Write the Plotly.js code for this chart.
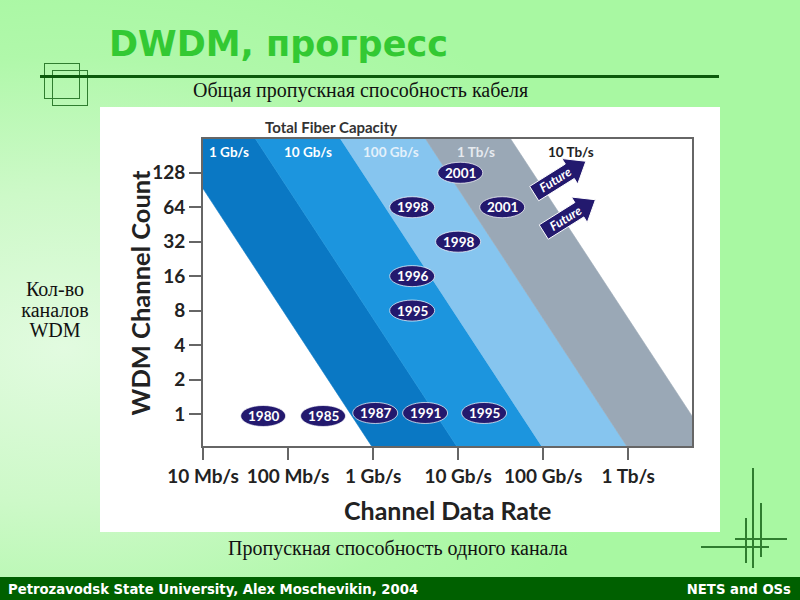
<!DOCTYPE html>
<html><head><meta charset="utf-8">
<script src="https://cdn.plot.ly/plotly-3.0.1.min.js"></script>
<style>
html,body{margin:0;padding:0;}
body{width:800px;height:600px;position:relative;overflow:hidden;
 background: radial-gradient(ellipse 75% 65% at 8% 58%, #e2fbe0 0%, #cdf9c8 40%, #b0f8aa 75%, #a8f8a2 100%);}
#title{position:absolute;left:109px;top:24px;font-family:"DejaVu Sans",Verdana,sans-serif;font-weight:bold;font-size:35px;color:#33c933;white-space:nowrap;}
.rule{position:absolute;left:40px;top:75px;width:679px;height:3px;background:#0b5a0b;}
.sq{position:absolute;border:1.5px solid #2f7d2f;width:34px;height:34px;}
.sq1{left:44px;top:63px;}
.sq2{left:52px;top:70px;}
.serif{position:absolute;font-family:"Liberation Serif","Times New Roman",serif;color:#111;white-space:nowrap;}
#sub1{left:193px;top:79px;font-size:20px;}
#sub2{left:228px;top:537px;font-size:20px;}
#ylab{left:8px;top:279px;width:94px;text-align:center;font-size:20px;line-height:20.5px;}
#panel{position:absolute;left:100px;top:107px;width:620px;height:425px;background:#fff;}
#chart{width:620px;height:425px;}
.vl{position:absolute;width:1.5px;background:#2f7d2f;}
.hl{position:absolute;height:1.5px;background:#2f7d2f;}
#footer{position:absolute;left:0;top:577px;width:800px;height:23px;background:#006000;color:#fff;
 font-family:"DejaVu Sans Condensed","DejaVu Sans",sans-serif;font-stretch:condensed;font-weight:bold;font-size:14.7px;line-height:23px;}
#footer .l{position:absolute;left:8px;}
#footer .r{position:absolute;right:9px;}
</style></head><body>
<div id="title">DWDM, прогресс</div>
<div class="sq sq1"></div><div class="sq sq2"></div>
<div class="rule"></div>
<div id="sub1" class="serif">Общая пропускная способность кабеля</div>
<div id="panel"><div id="chart"></div></div>
<div id="ylab" class="serif">Кол-во<br>каналов<br>WDM</div>
<div id="sub2" class="serif">Пропускная способность одного канала</div>
<div class="vl" style="left:752px;top:468px;height:100px;"></div>
<div class="vl" style="left:760px;top:503px;height:54px;"></div>
<div class="vl" style="left:745px;top:518px;height:45px;"></div>
<div class="hl" style="left:735px;top:538px;width:52px;"></div>
<div class="hl" style="left:701px;top:546px;width:68px;"></div>
<div id="footer"><span class="l">Petrozavodsk State University, Alex Moschevikin, 2004</span><span class="r">NETS and OSs</span></div>
<script>
// ---- data (rates in Mb/s, channel counts) ----
const xTickRates = [10, 100, 1000, 10000, 100000, 1000000];
const xTickLabels = ['10 Mb/s', '100 Mb/s', '1 Gb/s', '10 Gb/s', '100 Gb/s', '1 Tb/s'];
const yTickCounts = [1, 2, 4, 8, 16, 32, 64, 128];
const yTickLabels = ['1', '2', '4', '8', '16', '32', '64', '128'];

const bandNames = ['1 Gb/s', '10 Gb/s', '100 Gb/s', '1 Tb/s', '10 Tb/s'];
const bandEdgeRateLow = [1000, 10000, 100000, 1000000, 10000000];   // edge rate at 0.5 channels
const bandEdgeRateHigh = [4.1, 41, 410, 4100, 41000];               // edge rate at 256 channels
const bandEdgeCountLow = 0.5;
const bandEdgeCountHigh = 256;
const bandLabelRates = [20, 172, 1620, 16200, 214000];
const bandLabelCount = 196;

const years = ['1980', '1985', '1987', '1991', '1995', '1995', '1996', '1998', '1998', '2001', '2001'];
const yearRates = [51, 258, 1060, 4090, 20200, 2880, 2880, 2880, 10000, 10600, 33000];
const yearCounts = [0.96, 0.96, 1.02, 1.02, 1.02, 8, 16, 64, 32, 128, 64];

const futureLabels = ['Future', 'Future'];
const futureRates = [156000, 202000];
const futureCounts = [116, 53.5];

// ---- styles ----
const bandColors = ['#0a78c4', '#1c95de', '#86c5ef', '#9aa8b6'];
const bandLabelColors = ['#ffffff', '#ffffff', '#e4f1fb', '#e6eaef', '#222222'];
const navy = '#23196e';
const chartFont = 'Lato, "Liberation Sans", sans-serif';

const lx = Math.log10, ly = Math.log2;

const traces = [];
for (let i = 0; i < bandColors.length; i++) {
  traces.push({
    type: 'scatter', mode: 'lines', fill: 'toself', hoverinfo: 'skip', showlegend: false,
    x: [lx(bandEdgeRateLow[i]), lx(bandEdgeRateHigh[i]), lx(bandEdgeRateHigh[i + 1]), lx(bandEdgeRateLow[i + 1]), lx(bandEdgeRateLow[i])],
    y: [ly(bandEdgeCountLow), ly(bandEdgeCountHigh), ly(bandEdgeCountHigh), ly(bandEdgeCountLow), ly(bandEdgeCountLow)],
    fillcolor: bandColors[i], line: {color: bandColors[i], width: 0.6}
  });
}

const shapes = [];
const annotations = [];

years.forEach((t, i) => {
  shapes.push({type: 'circle', xref: 'x', yref: 'y', xsizemode: 'pixel', ysizemode: 'pixel',
    xanchor: lx(yearRates[i]), yanchor: ly(yearCounts[i]), x0: -22.5, x1: 22.5, y0: -10.5, y1: 10.5,
    fillcolor: navy, line: {color: 'rgba(255,255,255,0.7)', width: 1}, layer: 'above'});
  annotations.push({x: lx(yearRates[i]), y: ly(yearCounts[i]), xref: 'x', yref: 'y', text: t, showarrow: false,
    font: {family: chartFont, size: 13.5, color: '#fff', weight: 'bold'}});
});

function blockArrow(angleDeg) {
  const a = angleDeg * Math.PI / 180, c = Math.cos(a), s = Math.sin(a);
  const pts = [[-30, -8.5], [12, -8.5], [12, -15], [31, 0], [12, 15], [12, 8.5], [-30, 8.5]];
  return 'M' + pts.map(p => (p[0] * c - p[1] * s).toFixed(1) + ',' + (p[0] * s + p[1] * c).toFixed(1)).join(' L') + ' Z';
}
futureLabels.forEach((t, i) => {
  shapes.push({type: 'path', xref: 'x', yref: 'y', xsizemode: 'pixel', ysizemode: 'pixel',
    xanchor: lx(futureRates[i]), yanchor: ly(futureCounts[i]), path: blockArrow(32),
    fillcolor: navy, line: {color: '#ffffff', width: 1}, layer: 'above'});
  annotations.push({x: lx(futureRates[i]), y: ly(futureCounts[i]), xref: 'x', yref: 'y', text: '<i>' + t + '</i>',
    showarrow: false, textangle: -32, xshift: -4, yshift: -2,
    font: {family: chartFont, size: 12.5, color: '#fff', weight: 'bold'}});
});

bandNames.forEach((t, i) => {
  annotations.push({x: lx(bandLabelRates[i]), y: ly(bandLabelCount), xref: 'x', yref: 'y', text: t, showarrow: false,
    font: {family: chartFont, size: 13.5, color: bandLabelColors[i], weight: 'bold'}});
});

annotations.push({xref: 'paper', yref: 'paper', x: 0.262, y: 1.039, text: 'Total Fiber Capacity', showarrow: false,
  xanchor: 'center', yanchor: 'middle', font: {family: chartFont, size: 15, color: '#333', weight: 'bold'}});
annotations.push({xref: 'paper', yref: 'paper', x: -0.129, y: 0.5, text: 'WDM Channel Count', showarrow: false, textangle: -90,
  xanchor: 'center', yanchor: 'middle', font: {family: chartFont, size: 25.5, color: '#222', weight: 'bold'}});
annotations.push({xref: 'paper', yref: 'paper', x: 0.5, y: -0.208, text: 'Channel Data Rate', showarrow: false,
  xanchor: 'center', yanchor: 'middle', font: {family: chartFont, size: 25, color: '#222', weight: 'bold'}});

const layout = {
  width: 620, height: 425,
  margin: {l: 103, r: 28, t: 32, b: 86},
  paper_bgcolor: '#ffffff', plot_bgcolor: '#ffffff',
  showlegend: false,
  xaxis: {range: [1, 6.75], tickvals: xTickRates.map(lx), ticktext: xTickLabels, ticks: 'outside', ticklen: 12,
    tickwidth: 2, tickcolor: '#666', showgrid: false, zeroline: false, showline: true, linecolor: '#666', linewidth: 2,
    mirror: true, tickfont: {family: chartFont, size: 19, color: '#222', weight: 'bold'}, fixedrange: true},
  yaxis: {range: [-0.93, 7.98], tickvals: yTickCounts.map(ly), ticktext: yTickLabels, ticks: 'outside', ticklen: 12,
    tickwidth: 2, tickcolor: '#666', showgrid: false, zeroline: false, showline: true, linecolor: '#666', linewidth: 2,
    mirror: true, tickfont: {family: chartFont, size: 19, color: '#222', weight: 'bold'}, fixedrange: true},
  shapes: shapes,
  annotations: annotations
};

Plotly.newPlot('chart', traces, layout, {displayModeBar: false, staticPlot: true});
</script>
</body></html>
